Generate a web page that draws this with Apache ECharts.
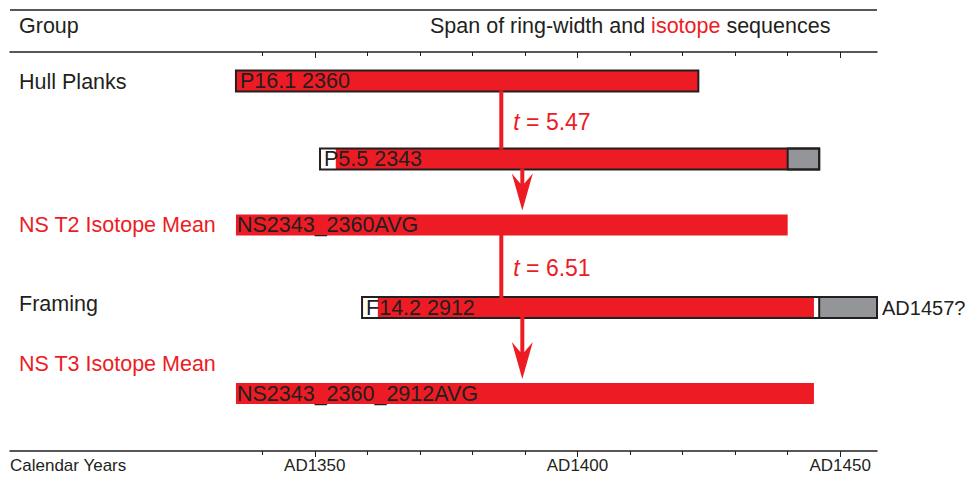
<!DOCTYPE html>
<html><head><meta charset="utf-8">
<script src="https://cdn.jsdelivr.net/npm/echarts@6/dist/echarts.min.js"></script>
<style>html,body{margin:0;padding:0;background:#fff}#c{width:972px;height:488px}</style>
</head><body><div id="c"></div>
<script>
// ---- data ----
const seqNames = ['P16.1 2360', 'P5.5 2343', 'NS2343_2360AVG', 'F14.2 2912', 'NS2343_2360_2912AVG'];
const seqStart = [1335, 1351, 1335, 1359, 1335];   // ring-width series start
const isoStart = [1335, 1354, 1335, 1362, 1335];   // isotope series start
const isoEnd   = [1423, 1440, 1440, 1445, 1445];   // isotope series end
const sapStart = [null, 1440, null, 1446, null];   // grey (non-isotope) tail start
const seqEnd   = [1423, 1446, 1440, 1457, 1445];   // ring-width series end
const seqIsRingWidth = [true, true, false, true, false];
const seqEndNote = ['', '', '', 'AD1457?', ''];
const groupNames = ['Hull Planks', 'NS T2 Isotope Mean', 'Framing', 'NS T3 Isotope Mean'];
const groupIsIsotope = [false, true, false, true];
const linkFrom  = [0, 1, 2, 3];
const linkTo    = [1, 2, 3, 4];
const linkYear  = [1385.5, 1389.5, 1385.5, 1389.5];
const linkArrow = [false, true, false, true];
const tValues = [5.47, 6.51];
const tLinks  = [0, 2];
const tickYears  = [1340, 1350, 1360, 1370, 1380, 1390, 1400, 1410, 1420, 1430, 1440, 1450];
const labelYears = [1350, 1400, 1450];
const labelPrefix = 'AD';
const AXIS_MIN = 1292, AXIS_MAX = 1457;

// ---- layout / style ----
const RED = '#ed1c24', DARK = '#231f20', GREY = '#939598';
const FONT = '"Liberation Sans", Arial, Helvetica, sans-serif';
const FS = 21.5;
const L = {
  gridLeft: 10, gridRight: 95, gridTop: 52, gridBottom: 37,
  yMax: 399,
  seqRowY: [29, 107, 173, 255.5, 341.5],
  groupRowY: [30, 173, 252, 312],
  barH: 21
};

const chart = echarts.init(document.getElementById('c'), null, {renderer: 'svg'});

function renderSeq(params, api) {
  const i = params.dataIndex;
  const ry = L.seqRowY[i];
  const X = v => api.coord([v, ry])[0];
  const yc = api.coord([seqStart[i], ry])[1];
  const top = yc - L.barH / 2, h = L.barH;
  const x0 = X(api.value(0)), x1 = X(api.value(1));
  const xi0 = X(api.value(2)), xi1 = X(api.value(3));
  const ch = [];
  if (seqIsRingWidth[i]) {
    ch.push({type: 'rect', shape: {x: x0, y: top, width: x1 - x0, height: h}, style: {fill: '#fff'}});
  }
  ch.push({type: 'rect', shape: {x: xi0, y: top, width: xi1 - xi0, height: h}, style: {fill: RED}});
  if (sapStart[i] != null) {
    const xs = X(sapStart[i]);
    ch.push({type: 'rect', shape: {x: xs, y: top, width: x1 - xs, height: h}, style: {fill: GREY, stroke: DARK, lineWidth: 2}});
  }
  if (seqIsRingWidth[i]) {
    ch.push({type: 'rect', shape: {x: x0, y: top, width: x1 - x0, height: h}, style: {fill: 'none', stroke: DARK, lineWidth: 2}});
  }
  ch.push({type: 'text', style: {x: x0 + (seqIsRingWidth[i] ? 4 : 1), y: yc, text: seqNames[i], fill: DARK,
    fontSize: FS, fontFamily: FONT, align: 'left', verticalAlign: 'middle'}});
  if (seqEndNote[i]) {
    ch.push({type: 'text', style: {x: x1 + 5, y: yc, text: seqEndNote[i], fill: DARK,
      fontSize: 20, fontFamily: FONT, align: 'left', verticalAlign: 'middle'}});
  }
  return {type: 'group', children: ch};
}

function renderLink(params, api) {
  const i = params.dataIndex;
  const xp = api.coord([api.value(0), 0])[0];
  const yA = api.coord([api.value(0), L.seqRowY[linkFrom[i]]])[1] + L.barH / 2;
  const yB = api.coord([api.value(0), L.seqRowY[linkTo[i]]])[1] - L.barH / 2;
  const ch = [];
  if (!linkArrow[i]) {
    ch.push({type: 'line', shape: {x1: xp, y1: yA - 1, x2: xp, y2: yB + 1}, style: {stroke: RED, lineWidth: 4}});
  } else {
    const tip = yB - 4;
    ch.push({type: 'line', shape: {x1: xp, y1: yA - 1, x2: xp, y2: tip - 26}, style: {stroke: RED, lineWidth: 4}});
    ch.push({type: 'polygon', shape: {points: [[xp, tip], [xp + 10.5, tip - 37], [xp + 2, tip - 27], [xp - 2, tip - 27], [xp - 10.5, tip - 37]]},
      style: {fill: RED}});
  }
  const k = tLinks.indexOf(i);
  if (k >= 0) {
    ch.push({type: 'text', style: {x: xp + 12, y: (yA + yB) / 2 + 2,
      text: '{i|t}{n| = ' + tValues[k].toFixed(2) + '}',
      rich: {i: {fontStyle: 'italic', fill: RED, fontSize: 23, fontFamily: FONT},
             n: {fill: RED, fontSize: 23, fontFamily: FONT}},
      align: 'left', verticalAlign: 'middle'}});
  }
  return {type: 'group', children: ch};
}

function renderGroup(params, api) {
  const i = params.dataIndex;
  const p = api.coord([api.value(0), api.value(1)]);
  return {type: 'text', style: {x: p[0] + 9, y: p[1], text: groupNames[i],
    fill: groupIsIsotope[i] ? RED : DARK, fontSize: FS, fontFamily: FONT, align: 'left', verticalAlign: 'middle'}};
}

const baseX = {type: 'value', min: AXIS_MIN, max: AXIS_MAX, splitLine: {show: false}};
const option = {
  backgroundColor: '#fff',
  animation: false,
  grid: {left: L.gridLeft, right: L.gridRight, top: L.gridTop, bottom: L.gridBottom},
  xAxis: [
    Object.assign({}, baseX, {position: 'bottom',
      axisLine: {show: true, onZero: false, lineStyle: {color: DARK, width: 1.5}},
      axisTick: {show: true, length: 4, customValues: tickYears, lineStyle: {color: DARK, width: 1}},
      axisLabel: {show: true, customValues: labelYears, formatter: v => labelPrefix + v, color: DARK,
        fontSize: 17, fontFamily: FONT, margin: 6}}),
    Object.assign({}, baseX, {position: 'bottom',
      axisLine: {show: false, onZero: false}, axisLabel: {show: false},
      axisTick: {show: true, length: 6, customValues: labelYears, lineStyle: {color: DARK, width: 1}}}),
    Object.assign({}, baseX, {position: 'top',
      axisLine: {show: true, onZero: false, lineStyle: {color: DARK, width: 1.5}}, axisLabel: {show: false},
      axisTick: {show: true, inside: true, length: 4, customValues: tickYears, lineStyle: {color: DARK, width: 1}}}),
    Object.assign({}, baseX, {position: 'top',
      axisLine: {show: false, onZero: false}, axisLabel: {show: false},
      axisTick: {show: true, inside: true, length: 6, customValues: labelYears, lineStyle: {color: DARK, width: 1}}})
  ],
  yAxis: {type: 'value', min: 0, max: L.yMax, inverse: true, show: false},
  graphic: [
    {type: 'line', shape: {x1: L.gridLeft, y1: 10, x2: 972 - L.gridRight, y2: 10}, style: {stroke: DARK, lineWidth: 1.5}},
    {type: 'text', x: 19, y: 26, style: {text: 'Group', fill: DARK, fontSize: FS, fontFamily: FONT, verticalAlign: 'middle'}},
    {type: 'text', x: 430, y: 26, style: {text: '{a|Span of ring-width and }{b|isotope}{a| sequences}',
      rich: {a: {fill: DARK, fontSize: FS, fontFamily: FONT}, b: {fill: RED, fontSize: FS, fontFamily: FONT}},
      verticalAlign: 'middle'}},
    {type: 'text', x: 10, y: 465, style: {text: 'Calendar Years', fill: DARK, fontSize: 17, fontFamily: FONT, verticalAlign: 'middle'}}
  ],
  series: [
    {type: 'custom', name: 'links', xAxisIndex: 0, yAxisIndex: 0, renderItem: renderLink, clip: false,
      data: linkYear.map((y, i) => [y, L.seqRowY[linkFrom[i]]]), z: 3},
    {type: 'custom', name: 'sequences', xAxisIndex: 0, yAxisIndex: 0, renderItem: renderSeq, clip: false,
      data: seqNames.map((n, i) => [seqStart[i], seqEnd[i], isoStart[i], isoEnd[i], L.seqRowY[i]]),
      encode: {x: [0, 1, 2, 3], y: 4}, z: 2},
    {type: 'custom', name: 'groups', xAxisIndex: 0, yAxisIndex: 0, renderItem: renderGroup, clip: false,
      data: groupNames.map((n, i) => [AXIS_MIN, L.groupRowY[i]]), z: 2}
  ]
};
chart.setOption(option);
</script></body></html>
